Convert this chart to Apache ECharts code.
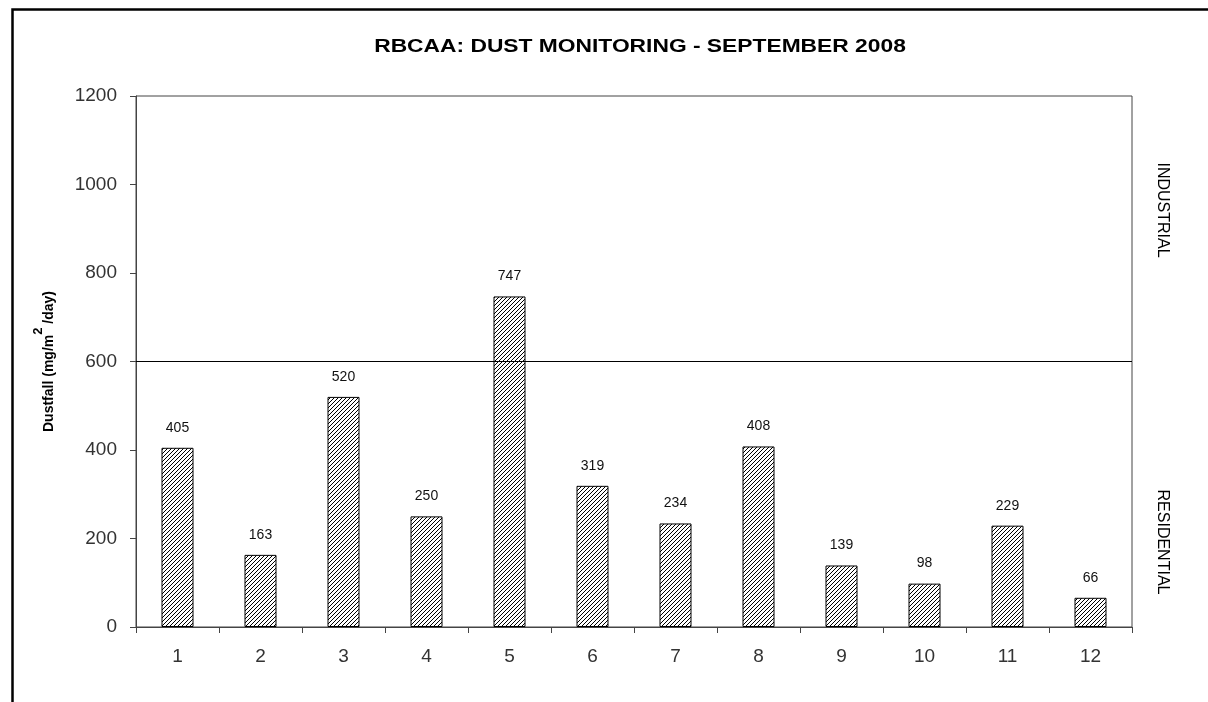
<!DOCTYPE html>
<html>
<head>
<meta charset="utf-8">
<script src="https://cdn.jsdelivr.net/npm/echarts@6/dist/echarts.min.js"></script>
<style>
html,body{margin:0;padding:0;background:#fff;}
#c{width:1208px;height:702px;}
</style>
</head>
<body>
<div id="c"></div>
<script>
const categories = ['1','2','3','4','5','6','7','8','9','10','11','12'];
const dustfall = [405,163,520,250,747,319,234,408,139,98,229,66];
const thresholdValue = 600;
const yTicks = {min:0, max:1200, interval:200};
const titleText = 'RBCAA: DUST MONITORING - SEPTEMBER 2008';
const yAxisName = '{a|Dustfall (mg/m}{s|2}{a| /day)}';
const zoneLabels = ['INDUSTRIAL','RESIDENTIAL'];

// hatch pattern
const pc = document.createElement('canvas');
pc.width = 4; pc.height = 4;
const px = pc.getContext('2d');
px.fillStyle = '#fff'; px.fillRect(0,0,4,4);
px.strokeStyle = '#000'; px.lineWidth = 1;
px.beginPath();
px.moveTo(0,4); px.lineTo(4,0);
px.moveTo(-1,1); px.lineTo(1,-1);
px.moveTo(3,5); px.lineTo(5,3);
px.stroke();

const chart = echarts.init(document.getElementById('c'));
const font = 'Liberation Sans, Arial, sans-serif';
chart.setOption({
  backgroundColor:'#fff',
  animation:false,
  grid:{left:136, right:76, top:96, bottom:75, show:true, borderColor:'#444', borderWidth:1, backgroundColor:'transparent'},
  xAxis:{type:'category', data:categories,
    axisLine:{lineStyle:{color:'#444', width:1}},
    axisTick:{show:true, length:6, lineStyle:{color:'#444'}},
    axisLabel:{fontFamily:font, fontSize:19, color:'#333', margin:20}},
  yAxis:{type:'value', min:yTicks.min, max:yTicks.max, interval:yTicks.interval,
    name:yAxisName, nameLocation:'middle', nameGap:80, nameRotate:90,
    nameTextStyle:{fontFamily:font, fontSize:14, fontWeight:'bold', color:'#000',
      rich:{
        a:{fontFamily:font, fontSize:14, fontWeight:'bold', color:'#000', verticalAlign:'bottom', lineHeight:24},
        s:{fontFamily:font, fontSize:13, fontWeight:'bold', color:'#000', verticalAlign:'top', lineHeight:24}
      }},
    axisLine:{show:true, lineStyle:{color:'#444', width:1}},
    axisTick:{show:true, length:6, lineStyle:{color:'#444'}},
    splitLine:{show:false},
    axisLabel:{fontFamily:font, fontSize:19, color:'#333', margin:19, formatter:(v)=>String(v)}},
  series:[{type:'bar', data:dustfall, barWidth:32,
    itemStyle:{color:{image:pc, repeat:'repeat'}, borderColor:'#000', borderWidth:1},
    label:{show:true, position:'top', distance:13, fontFamily:font, fontSize:14, color:'#111'},
    markLine:{symbol:'none', silent:true, label:{show:false},
      lineStyle:{color:'#000', width:1, type:'solid'},
      data:[{yAxis:thresholdValue}]}
  }],
  graphic:[
    {type:'rect', left:10, top:7, shape:{width:1300, height:800}, style:{fill:'none', stroke:'#000', lineWidth:2.5}, z:-1},
    {type:'text', x:640, y:47, scaleX:1.2, style:{text:titleText, fontFamily:font, fontSize:19, fontWeight:'bold', fill:'#000', textAlign:'center', textVerticalAlign:'middle'}},
    {type:'text', x:1162, y:210, rotation:-Math.PI/2, style:{text:zoneLabels[0], fontFamily:font, fontSize:16, fill:'#000', textAlign:'center', textVerticalAlign:'middle'}},
    {type:'text', x:1162, y:542, rotation:-Math.PI/2, style:{text:zoneLabels[1], fontFamily:font, fontSize:16, fill:'#000', textAlign:'center', textVerticalAlign:'middle'}}
  ]
});
</script>
</body>
</html>
